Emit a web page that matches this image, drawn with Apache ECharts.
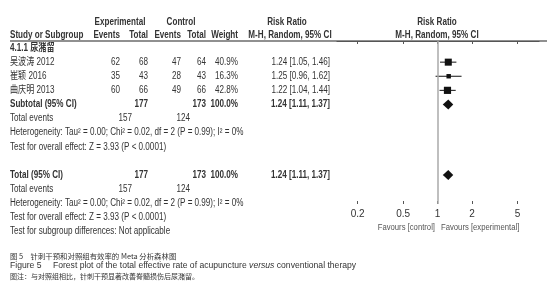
<!DOCTYPE html>
<html>
<head>
<meta charset="utf-8">
<script src="https://cdn.jsdelivr.net/npm/echarts@6/dist/echarts.min.js"></script>
<style>
  html, body { margin: 0; background: #fff; }
  #chart { width: 557px; height: 300px; }
</style>
</head>
<body>
<div id="chart"></div>
<script>
// study data
const groupName = '4.1.1 尿潴留'
const studyNames = ['吴波涛 2012', '崔颖 2016', '曲庆明 2013']
const expEvents = [62, 35, 60]
const expTotal = [68, 43, 66]
const ctlEvents = [47, 28, 49]
const ctlTotal = [64, 43, 66]
const weights = [40.9, 16.3, 42.8]
const rr = [1.24, 1.25, 1.22]
const rrLow = [1.05, 0.96, 1.04]
const rrHigh = [1.46, 1.62, 1.44]
// pooled
const pooled = [1.24, 1.11, 1.37]
const pooledTotals = [177, 173]
const pooledEvents = [157, 124]
const xTicks = [0.2, 0.5, 1, 2, 5]

const FONT = "'Liberation Sans', Arial, 'Noto Sans CJK SC', sans-serif"
const INK = '#333'
const SX = 0.81 // narrow look of the original
const ROW = 14.1
const TOP = 41
const rowY = r => TOP + (r - 0.5) * ROW
const lg = v => Math.log10(v)

const t = (x, y, s, o = {}) => ({
  type: 'text', x, y, silent: true,
  scaleX: o.sx == null ? SX : o.sx,
  style: {
    text: s,
    fill: o.fill || INK,
    font: `${o.bold ? 'bold ' : ''}${o.size || 10}px ${o.font || FONT}`,
    align: o.align || 'left', textAlign: o.align || 'left',
    verticalAlign: 'middle', textVerticalAlign: 'middle',
    rich: o.rich
  }
})

const colX = { ee: 120, et: 148, ce: 181, ct: 206, w: 238, rr: 330 }
const fmtCI = (m, l, h) => `${m.toFixed(2)} [${l.toFixed(2)}, ${h.toFixed(2)}]`

const g = []
// header
g.push(t(120, 22, 'Experimental', { bold: true, align: 'center' }))
g.push(t(181, 22, 'Control', { bold: true, align: 'center' }))
g.push(t(287, 22, 'Risk Ratio', { bold: true, align: 'center' }))
g.push(t(437, 22, 'Risk Ratio', { bold: true, align: 'center' }))
g.push(t(10, 35, 'Study or Subgroup', { bold: true }))
g.push(t(colX.ee, 35, 'Events', { bold: true, align: 'right' }))
g.push(t(colX.et, 35, 'Total', { bold: true, align: 'right' }))
g.push(t(colX.ce, 35, 'Events', { bold: true, align: 'right' }))
g.push(t(colX.ct, 35, 'Total', { bold: true, align: 'right' }))
g.push(t(colX.w, 35, 'Weight', { bold: true, align: 'right' }))
g.push(t(290, 35, 'M-H, Random, 95% CI', { bold: true, align: 'center' }))
g.push(t(437, 35, 'M-H, Random, 95% CI', { bold: true, align: 'center' }))
g.push({ type: 'line', silent: true, shape: { x1: 10, y1: TOP, x2: 547, y2: TOP }, style: { stroke: '#222', lineWidth: 1.2 } })

g.push(t(10, rowY(1), groupName, { bold: true }))
studyNames.forEach((n, i) => {
  const y = rowY(i + 2)
  g.push(t(10, y, n))
  g.push(t(colX.ee, y, String(expEvents[i]), { align: 'right' }))
  g.push(t(colX.et, y, String(expTotal[i]), { align: 'right' }))
  g.push(t(colX.ce, y, String(ctlEvents[i]), { align: 'right' }))
  g.push(t(colX.ct, y, String(ctlTotal[i]), { align: 'right' }))
  g.push(t(colX.w, y, weights[i].toFixed(1) + '%', { align: 'right' }))
  g.push(t(colX.rr, y, fmtCI(rr[i], rrLow[i], rrHigh[i]), { align: 'right' }))
})

const hetero = 'Heterogeneity: Tau² = 0.00; Chi² = 0.02, df = 2 (P = 0.99); I² = 0%'
const overall = 'Test for overall effect: Z = 3.93 (P < 0.0001)'
const summaryBlock = (r, label) => {
  g.push(t(10, rowY(r), label, { bold: true }))
  g.push(t(colX.et, rowY(r), String(pooledTotals[0]), { bold: true, align: 'right' }))
  g.push(t(colX.ct, rowY(r), String(pooledTotals[1]), { bold: true, align: 'right' }))
  g.push(t(colX.w, rowY(r), '100.0%', { bold: true, align: 'right' }))
  g.push(t(colX.rr, rowY(r), fmtCI(pooled[0], pooled[1], pooled[2]), { bold: true, align: 'right' }))
  g.push(t(10, rowY(r + 1), 'Total events'))
  g.push(t(132, rowY(r + 1), String(pooledEvents[0]), { align: 'right' }))
  g.push(t(190, rowY(r + 1), String(pooledEvents[1]), { align: 'right' }))
  g.push(t(10, rowY(r + 2), hetero))
  g.push(t(10, rowY(r + 3), overall))
}
summaryBlock(5, 'Subtotal (95% CI)')
summaryBlock(10, 'Total (95% CI)')
g.push(t(10, rowY(14), 'Test for subgroup differences: Not applicable'))

// axis captions
g.push(t(435, 227, 'Favours [control]', { align: 'right', fill: '#555', size: 9.5 }))
g.push(t(441, 227, 'Favours [experimental]', { fill: '#555', size: 9.5 }))

// figure caption
const CJK = "'Noto Sans CJK SC', sans-serif"
g.push(t(10, 256, '图 5　针刺干预和对照组有效率的 Meta 分析森林图', { size: 7.4, font: CJK, sx: 1 }))
g.push(t(10, 266, '{a|Figure 5　 Forest plot of the total effective rate of acupuncture }{i|versus}{a| conventional therapy}', {
  size: 8.6, font: "'Liberation Sans', Arial, sans-serif", sx: 1,
  rich: {
    a: { font: "8.6px 'Liberation Sans', Arial, sans-serif", fill: INK },
    i: { font: "italic 8.6px 'Liberation Sans', Arial, sans-serif", fill: INK }
  }
}))
g.push(t(10, 276, '图注：与对照组相比，针刺干预显著改善脊髓损伤后尿潴留。', { size: 7, font: CJK, sx: 1 }))

const studyData = studyNames.map((n, i) => [lg(rr[i]), lg(rrLow[i]), lg(rrHigh[i]), i + 2 - 0.5, weights[i]])
const pooledData = [5, 10].map(r => [lg(pooled[0]), lg(pooled[1]), lg(pooled[2]), r - 0.5])

const chart = echarts.init(document.getElementById('chart'))
chart.setOption({
  animation: false,
  grid: { left: 337, right: 18, top: TOP, bottom: 96 },
  xAxis: [{
    type: 'value',
    min: lg(0.132),
    max: lg(7.7),
    splitLine: { show: false },
    axisLine: { lineStyle: { color: '#555', width: 1.2 } },
    axisTick: { customValues: xTicks.map(lg), length: 3, lineStyle: { color: '#555' } },
    axisLabel: {
      customValues: xTicks.map(lg),
      color: INK, fontFamily: "'Liberation Sans', Arial, sans-serif", fontSize: 10, margin: 5,
      formatter: v => String(Number(Math.pow(10, v).toPrecision(3)))
    }
  }, {
    type: 'value',
    position: 'bottom',
    min: lg(0.132),
    max: lg(7.7),
    splitLine: { show: false },
    axisLine: { show: false },
    axisLabel: { show: false },
    axisTick: { customValues: xTicks.map(lg), inside: true, length: 3, lineStyle: { color: '#555' } }
  }],
  yAxis: {
    type: 'value', inverse: true, min: 0, max: 163 / ROW, show: false
  },
  series: [{
    type: 'custom',
    data: studyData,
    renderItem(params, api) {
      const y = api.coord([0, api.value(3)])[1]
      const xl = api.coord([api.value(1), 0])[0]
      const xh = api.coord([api.value(2), 0])[0]
      const xc = api.coord([api.value(0), 0])[0]
      const s = Math.sqrt(api.value(4)) * 1.1
      return {
        type: 'group',
        children: [
          { type: 'line', shape: { x1: xl, y1: y, x2: xh, y2: y }, style: { stroke: '#111', lineWidth: 1 } },
          { type: 'rect', shape: { x: xc - s / 2, y: y - s / 2, width: s, height: s }, style: { fill: '#111' } }
        ]
      }
    }
  }, {
    type: 'custom',
    data: pooledData,
    renderItem(params, api) {
      const y = api.coord([0, api.value(3)])[1]
      const xl = api.coord([api.value(1), 0])[0]
      const xh = api.coord([api.value(2), 0])[0]
      const xc = api.coord([api.value(0), 0])[0]
      return {
        type: 'polygon',
        shape: { points: [[xl, y], [xc, y - 5], [xh, y], [xc, y + 5]] },
        style: { fill: '#111' }
      }
    },
    markLine: {
      silent: true,
      symbol: 'none',
      label: { show: false },
      lineStyle: { color: '#aaa', width: 1.5, type: 'solid' },
      data: [{ xAxis: 0 }]
    }
  }],
  graphic: g
})
</script>
</body>
</html>
